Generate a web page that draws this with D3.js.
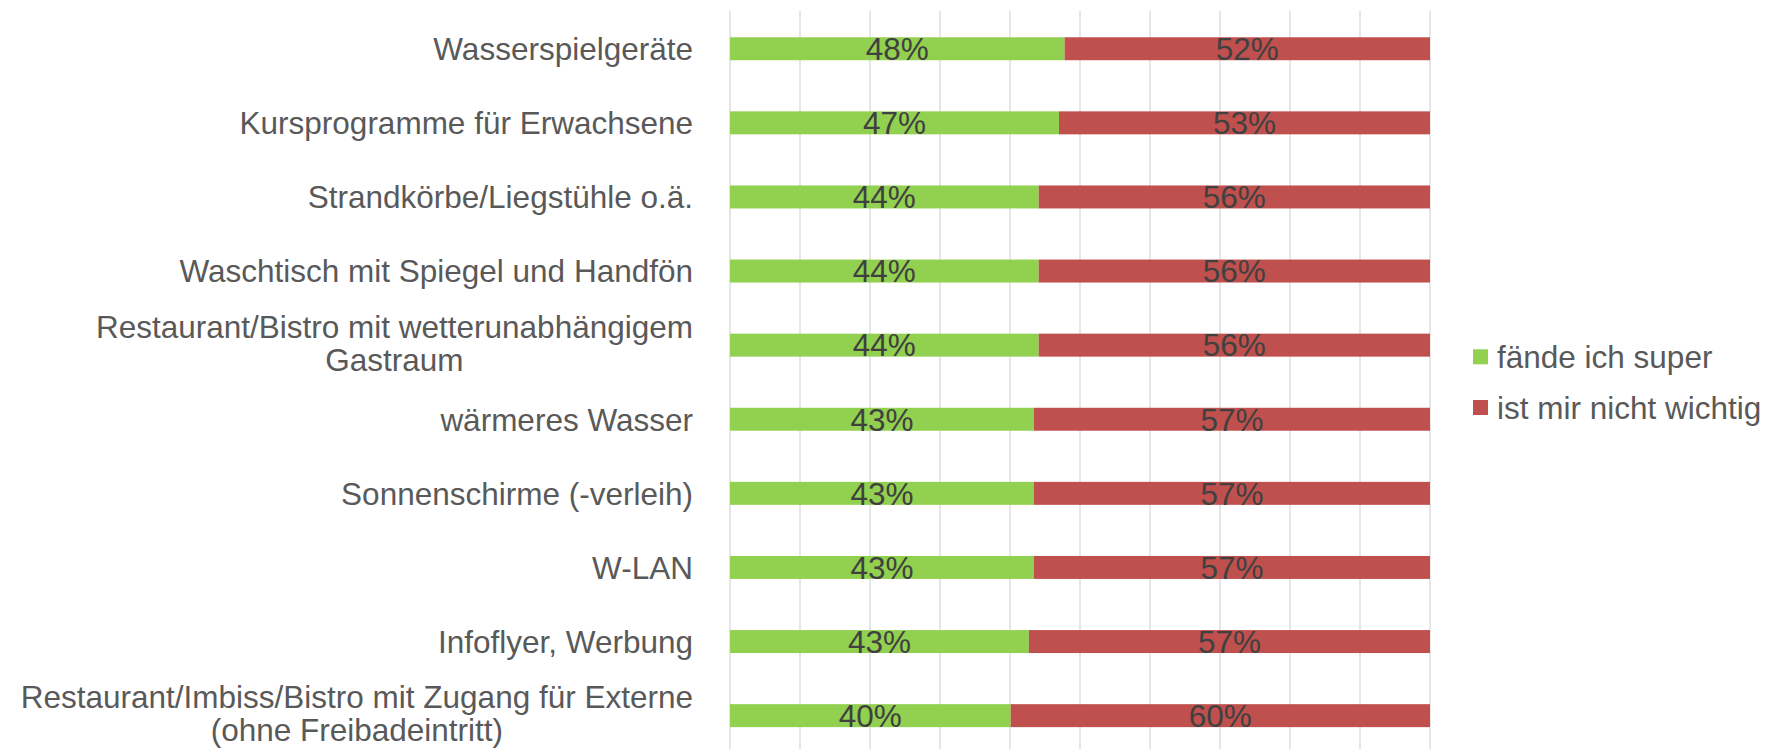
<!DOCTYPE html>
<html>
<head>
<meta charset="utf-8">
<script src="https://cdn.jsdelivr.net/npm/d3@7"></script>
<style>
  html, body { margin: 0; padding: 0; background: #fff; }
  svg { display: block; }
  text { font-family: "Liberation Sans", Arial, sans-serif; }
</style>
</head>
<body>
<svg id="chart" width="1779" height="749"></svg>
<script>
// ---- data ----
const categories = [
  "Wasserspielgeräte",
  "Kursprogramme für Erwachsene",
  "Strandkörbe/Liegstühle o.ä.",
  "Waschtisch mit Spiegel und Handfön",
  "Restaurant/Bistro mit wetterunabhängigem\nGastraum",
  "wärmeres Wasser",
  "Sonnenschirme (-verleih)",
  "W-LAN",
  "Infoflyer, Werbung",
  "Restaurant/Imbiss/Bistro mit Zugang für Externe\n(ohne Freibadeintritt)"
];
const seriesNames = ["fände ich super", "ist mir nicht wichtig"];
const superValues = [47.8, 47.0, 44.1, 44.1, 44.1, 43.4, 43.4, 43.4, 42.7, 40.1];
const nichtWichtigValues = [52.2, 53.0, 55.9, 55.9, 55.9, 56.6, 56.6, 56.6, 57.3, 59.9];
const xTicks = [0, 10, 20, 30, 40, 50, 60, 70, 80, 90, 100];
const colors = ["#92D050", "#C0504D"];

// ---- layout ----
const svg = d3.select("#chart");
const plotLeft = 730, plotRight = 1430, plotTop = 11.7, plotBottom = 752.7;
const fontSize = 31.5;

const x = d3.scaleLinear().domain([0, 100]).range([plotLeft, plotRight]);
const y = d3.scaleBand().domain(categories).range([plotTop, plotBottom])
  .paddingInner(0.69).paddingOuter(0.345);

// gridlines
svg.append("g").selectAll("line").data(xTicks).join("line")
  .attr("x1", d => x(d)).attr("x2", d => x(d))
  .attr("y1", plotTop - 0.7).attr("y2", plotBottom)
  .attr("stroke", "#d9d9d9").attr("stroke-width", 1.3);

// stacked data
const rows = categories.map((c, i) => ({ cat: c, vals: [superValues[i], nichtWichtigValues[i]] }));
const stack = d3.stack().keys([0, 1]).value((d, k) => d.vals[k]);
const stacked = stack(rows);

const layers = svg.append("g").selectAll("g").data(stacked).join("g")
  .attr("fill", (d, i) => colors[i]);
layers.selectAll("rect").data(d => d).join("rect")
  .attr("x", d => x(d[0]))
  .attr("width", d => x(d[1]) - x(d[0]))
  .attr("y", d => y(d.data.cat))
  .attr("height", y.bandwidth());

// data labels
const fmt = d3.format(".0f");
const lblLayers = svg.append("g").selectAll("g").data(stacked).join("g");
lblLayers.selectAll("text").data(d => d).join("text")
  .attr("x", d => (x(d[0]) + x(d[1])) / 2)
  .attr("y", d => y(d.data.cat) + y.bandwidth() / 2)
  .attr("dy", "0.36em")
  .attr("text-anchor", "middle")
  .attr("font-size", fontSize)
  .attr("fill", "#404040")
  .text(d => fmt(d[1] - d[0]) + "%");

// category labels (right aligned block, centered lines)
const labelRight = 693;
const lineH = 33;
const catG = svg.append("g");
categories.forEach(c => {
  const lines = c.split("\n");
  const t = catG.append("text")
    .attr("font-size", fontSize)
    .attr("fill", "#595959")
    .attr("text-anchor", "middle");
  const cy = y(c) + y.bandwidth() / 2 - (lines.length > 1 ? 2 : 0);
  const first = cy - (lines.length - 1) * lineH / 2;
  const spans = lines.map((l, i) => t.append("tspan")
    .attr("y", first + i * lineH)
    .attr("dy", "0.36em")
    .text(l));
  let maxW = 0;
  spans.forEach(s => { maxW = Math.max(maxW, s.node().getComputedTextLength()); });
  spans.forEach(s => s.attr("x", labelRight - maxW / 2));
});

// legend
const legend = svg.append("g");
const legendY = [356.8, 407.5];
seriesNames.forEach((n, i) => {
  legend.append("rect")
    .attr("x", 1473).attr("y", legendY[i] - 7.5)
    .attr("width", 15).attr("height", 15)
    .attr("fill", colors[i]);
  legend.append("text")
    .attr("x", 1497).attr("y", legendY[i])
    .attr("dy", "0.36em")
    .attr("font-size", fontSize)
    .attr("fill", "#595959")
    .text(n);
});
</script>
</body>
</html>
